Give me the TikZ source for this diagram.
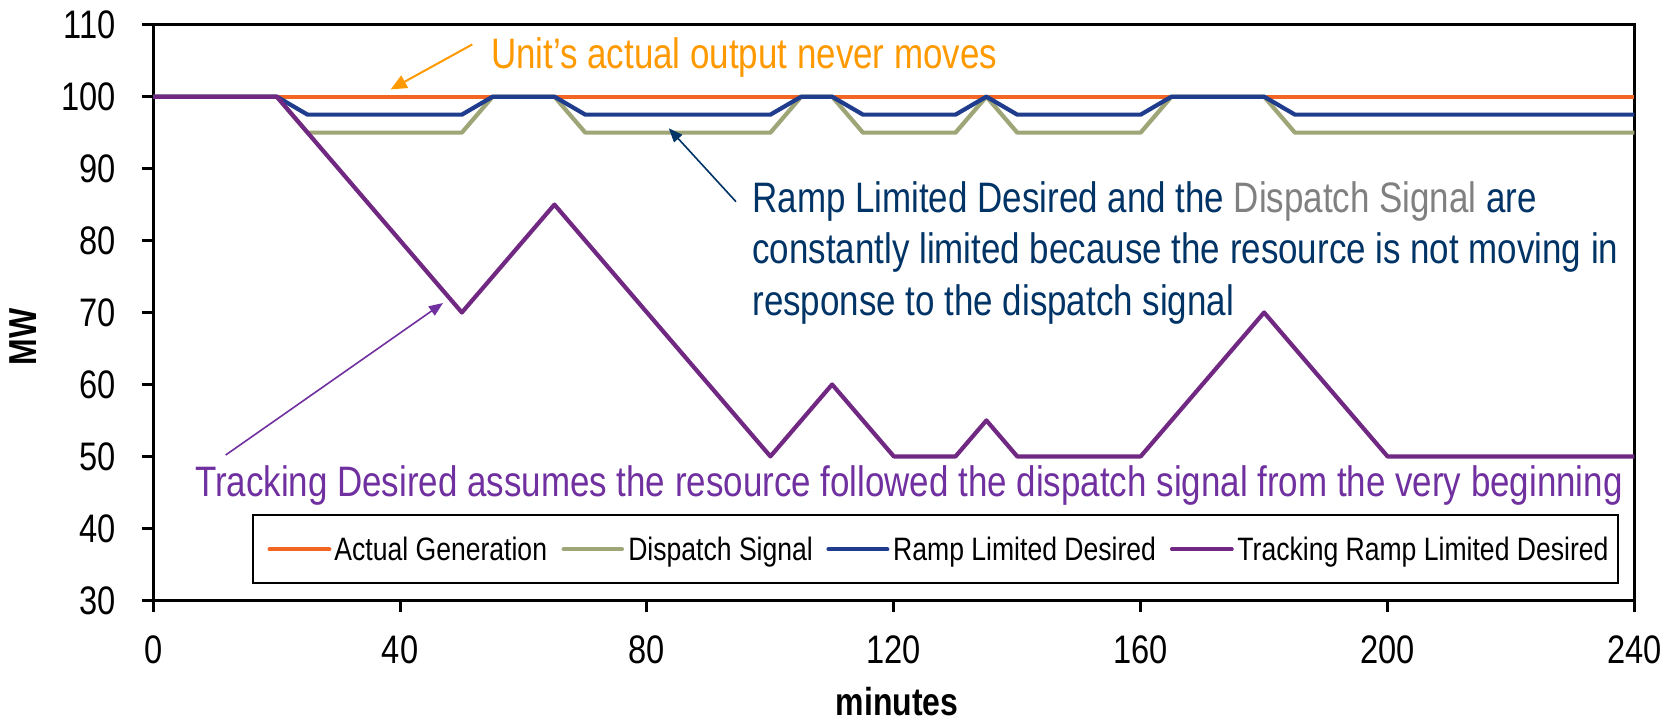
\documentclass[tikz,border=0pt]{standalone}
\usepackage{fontspec}
\setmainfont{Liberation Sans}[FakeStretch=0.82]
\usetikzlibrary{arrows.meta}
\definecolor{cAct}{RGB}{242,101,34}
\definecolor{cDis}{RGB}{158,165,118}
\definecolor{cRamp}{RGB}{31,61,140}
\definecolor{cTrk}{RGB}{112,40,130}
\definecolor{tOrange}{RGB}{255,153,0}
\definecolor{tNavy}{RGB}{0,51,102}
\definecolor{tGray}{RGB}{128,128,128}
\definecolor{tPurple}{RGB}{112,48,160}
\begin{document}
\begin{tikzpicture}[x=0.5pt,y=-0.5pt,
  ser/.style={line width=2.1pt, line join=round},
  axisline/.style={line width=1.5pt},
  ticklab/.style={inner sep=0pt, font=\fontsize{19.9}{22}\selectfont},
  annot/.style={inner sep=0pt, anchor=base west, font=\fontsize{21.3}{25}\selectfont},
  legtext/.style={inner sep=0pt, anchor=base west, font=\fontsize{16.2}{19}\selectfont},
  legline/.style={line width=2.1pt, line cap=round},
  ttl/.style={inner sep=0pt, font=\fontsize{19.5}{22}\selectfont\bfseries}]
\useasboundingbox (0,0) rectangle (1664,724);
\fill[white] (0,0) rectangle (1664,724);
\begin{scope}[shift={(153.3,816.15)}, x=3.0855pt, y=3.5975pt]
  \draw[axisline] (0,30) rectangle (240,110);
  \foreach \v in {30,40,...,110} {
    \draw[axisline] (-1.9,\v) -- (0,\v);
    \node[ticklab, anchor=east] (yl\v) at (-6.04,\v) {\v};
  }
  \foreach \t in {0,40,...,240} {
    \draw[axisline] (\t,30) -- (\t,28.37);
    \node[ticklab, anchor=north] (xl\t) at (\t,25.18) {\t};
  }
  \draw[ser, cAct] (0,100) -- (240,100);
  \draw[ser, cDis] (0,100) -- (20,100) -- (25,95) -- (50,95) -- (55,100) -- (65,100) -- (70,95) -- (100,95) -- (105,100) -- (110,100) -- (115,95) -- (130,95) -- (135,100) -- (140,95) -- (160,95) -- (165,100) -- (180,100) -- (185,95) -- (240,95);
  \draw[ser, cRamp] (0,100) -- (20,100) -- (25,97.5) -- (50,97.5) -- (55,100) -- (65,100) -- (70,97.5) -- (100,97.5) -- (105,100) -- (110,100) -- (115,97.5) -- (130,97.5) -- (135,100) -- (140,97.5) -- (160,97.5) -- (165,100) -- (180,100) -- (185,97.5) -- (240,97.5);
  \draw[ser, cTrk] (0,100) -- (20,100) -- (50,70) -- (65,85) -- (100,50) -- (110,60) -- (120,50) -- (130,50) -- (135,55) -- (140,50) -- (160,50) -- (180,70) -- (200,50) -- (240,50);
\end{scope}
% axis titles
\node[ttl, rotate=90] (ytitle) at (22.8,337) {MW};
\node[ttl, anchor=base] (xtitle) at (897,715) {minutes};
% annotations
\node[annot, text=tOrange] (unit) at (490.7,68.4) {Unit’s actual output never moves};
\coordinate (unitA) at (472.3,44.4);
\coordinate (unitB) at (390.7,89.4);
\draw[tOrange, line width=1pt, -{Triangle[length=8pt,width=7pt]}] (unitA) -- (unitB);
\node[annot, text=tNavy] (rl1) at (752,212.7) {Ramp Limited Desired and the \textcolor{tGray}{Dispatch Signal} are};
\node[annot, text=tNavy] (rl2) at (752,263.3) {constantly limited because the resource is not moving in};
\node[annot, text=tNavy] (rl3) at (752,315) {response to the dispatch signal};
\coordinate (rlA) at (736,201.7);
\coordinate (rlB) at (668.8,128.3);
\draw[tNavy, line width=0.8pt, -{Triangle[length=7pt,width=5.5pt]}] (rlA) -- (rlB);
\node[annot, text=tPurple] (trk) at (194.6,496.7) {Tracking Desired assumes the resource followed the dispatch signal from the very beginning};
\coordinate (trkA) at (225.7,455);
\coordinate (trkB) at (443,303);
\draw[tPurple, line width=0.8pt, -{Triangle[length=7pt,width=5.5pt]}] (trkA) -- (trkB);
% legend
\draw[line width=1pt, fill=white] (252.5,515) rectangle (1617.7,583.3);
\draw[legline, cAct] (269.6,549.3) -- (329.3,549.3);
\node[legtext] (lg1) at (334,560.7) {Actual Generation};
\draw[legline, cDis] (563.6,549.3) -- (621.9,549.3);
\node[legtext] (lg2) at (627.9,560.7) {Dispatch Signal};
\draw[legline, cRamp] (828.5,549.3) -- (887.3,549.3);
\node[legtext] (lg3) at (892.8,560.7) {Ramp Limited Desired};
\draw[legline, cTrk] (1172,549.3) -- (1231.7,549.3);
\node[legtext] (lg4) at (1237,560.7) {Tracking Ramp Limited Desired};
\end{tikzpicture}
\end{document}
